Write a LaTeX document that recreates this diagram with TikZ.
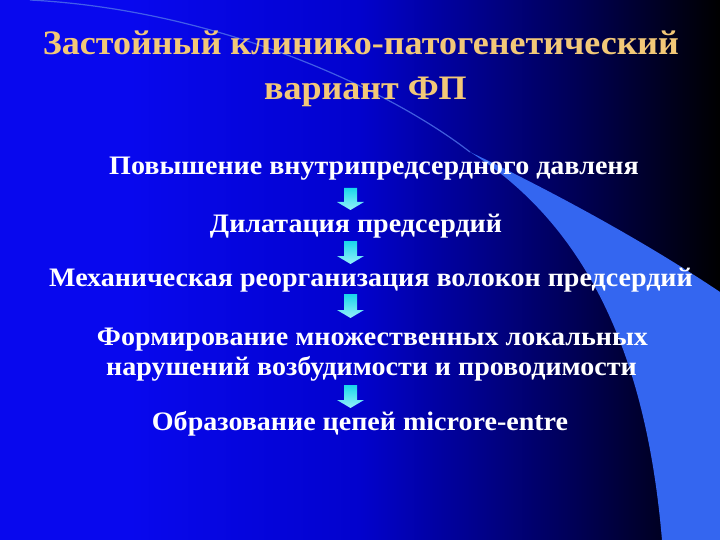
\documentclass[tikz,border=0pt]{standalone}
\usepackage{fontspec}
\setmainfont{Liberation Serif}
\newfontfamily\slidefont{Liberation Serif}[FakeStretch=1.05]
\definecolor{bgA}{RGB}{8,8,238}
\definecolor{bgB}{RGB}{2,2,205}
\definecolor{bgC}{RGB}{0,0,85}
\definecolor{bgD}{RGB}{0,0,25}
\definecolor{swooshc}{RGB}{52,102,240}
\definecolor{linec}{RGB}{80,115,235}
\definecolor{titlec}{RGB}{242,200,120}
\definecolor{cyanA}{RGB}{25,215,235}
\definecolor{cyanB}{RGB}{150,240,250}
\pgfdeclarehorizontalshading{bgshade}{100bp}{color(0bp)=(bgA); color(34bp)=(bgA); color(50bp)=(bgB); color(65bp)=(bgC); color(72bp)=(bgD); color(75bp)=(black); color(100bp)=(black)}
\tikzset{
  titletext/.style={text=titlec, font=\slidefont\fontsize{34.3}{40}\selectfont\bfseries, inner sep=0pt, anchor=base},
  bodytext/.style={text=white, font=\slidefont\fontsize{26.7}{30}\selectfont\bfseries, inner sep=0pt, anchor=base},
  arrowfill/.style={top color=cyanA, bottom color=cyanB},
}
\newcommand\blockarrow[3]{%
  \shade[arrowfill] (#1-6.5,#2) -- (#1+6.5,#2) -- (#1+6.5,#3-8) -- (#1+13.5,#3-8) -- (#1,#3) -- (#1-13.5,#3-8) -- (#1-6.5,#3-8) -- cycle;}
\begin{document}
\begin{tikzpicture}[x=1pt,y=-1pt]
\useasboundingbox (0,0) rectangle (720,540);
\shade[shading=bgshade] (0,0) rectangle (720,540);
\fill[swooshc] (470,152) .. controls (560,195) and (650,245) .. (720,292) -- (720,540) -- (662,540) .. controls (650,400) and (610,240) .. (470,152) -- cycle;
\draw[linec, line width=1.2pt, opacity=0.8] (30,0) .. controls (220,10) and (390,90) .. (470,152);

\node[titletext] (t1) at (361,55) {Застойный клинико-патогенетический};
\node[titletext] (t2) at (365.5,100) {вариант ФП};

\node[bodytext] (s1) at (374,175) {Повышение внутрипредсердного давленя};
\node[bodytext] (s2) at (356,232.5) {Дилатация предсердий};
\node[bodytext] (s3) at (371,286.5) {Механическая реорганизация волокон предсердий};
\node[bodytext] (s4a) at (372.5,345) {Формирование множественных локальных};
\node[bodytext] (s4b) at (371.5,375) {нарушений возбудимости и проводимости};
\node[bodytext] (s5) at (360,430) {Образование цепей microre-entre};

\blockarrow{350.5}{188}{210}
\blockarrow{350.5}{241}{264}
\blockarrow{350.5}{294}{318}
\blockarrow{350.5}{385}{408}
\end{tikzpicture}
\end{document}
